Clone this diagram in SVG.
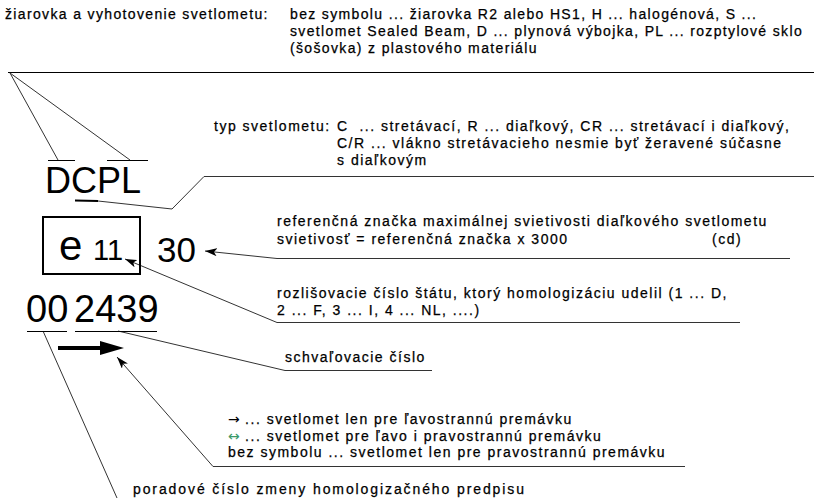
<svg xmlns="http://www.w3.org/2000/svg" width="814" height="498" viewBox="0 0 814 498">
<style>
  .t { font-family: "Liberation Sans", Arial, sans-serif; font-size: 14px; fill: #000; stroke: #000; stroke-width: 0.25px; letter-spacing: 1.5px; white-space: pre; }
  .top { letter-spacing: 1.35px; }
  .wide { letter-spacing: 1.9px; }
  .sym { font-family: "DejaVu Sans", sans-serif; letter-spacing: 0; stroke-width: 0; }
  .big { font-family: "Liberation Sans", Arial, sans-serif; fill: #000; }
  .ln { stroke: #333; stroke-width: 1; fill: none; }
  .lnk { stroke: #000; stroke-width: 1; fill: none; }
</style>
<defs>
  <marker id="ah" viewBox="0 0 12 8" refX="12" refY="4" markerWidth="12" markerHeight="8" markerUnits="userSpaceOnUse" orient="auto">
    <path d="M0,0 L12,4 L0,8 L3,4 z" fill="#000"/>
  </marker>
</defs>

<g id="connectors">
  <line class="lnk" x1="8" y1="72.5" x2="814" y2="72.5"/>
  <polyline class="ln" points="58,160 10,73 130,160"/>
  <line x1="75" y1="200.5" x2="98" y2="201" stroke="#000" stroke-width="2"/>
  <polyline class="ln" points="98,201 172,209 204,176.5 814,176.5"/>
  <polyline class="ln" points="790,258.5 277,258.5 205,251" marker-end="url(#ah)"/>
  <polyline class="ln" points="740,322.5 277,322.5 125,259" marker-end="url(#ah)"/>
  <polyline class="ln" points="118,331 285,370.5 432,370.5"/>
  <polyline class="ln" points="685,466.5 213,466.5 117,357" marker-end="url(#ah)"/>
  <line class="ln" x1="43" y1="331" x2="117" y2="498"/>
</g>

<g id="node-ziarovka">
  <text class="t top" x="5" y="19">žiarovka a vyhotovenie svetlometu:</text>
  <text class="t top" x="290" y="19">bez symbolu ... žiarovka R2 alebo HS1, H ... halogénová, S ...</text>
  <text class="t top" x="290" y="36">svetlomet Sealed Beam, D ... plynová výbojka, PL ... rozptylové sklo</text>
  <text class="t top" x="290" y="53">(šošovka) z plastového materiálu</text>
</g>

<g id="node-typ">
  <text class="t" x="214" y="131">typ svetlometu:</text>
  <text class="t" x="337" y="131">C  ... stretávací, R ... diaľkový, CR ... stretávací i diaľkový,</text>
  <text class="t" x="337" y="148">C/R ... vlákno stretávacieho nesmie byť žeravené súčasne</text>
  <text class="t" x="337" y="165">s diaľkovým</text>
</g>

<g id="node-dcpl">
  <text class="big" x="45" y="193" font-size="36">DCPL</text>
  <line class="lnk" x1="48" y1="160.5" x2="75" y2="160.5"/>
  <line class="lnk" x1="107" y1="160.5" x2="148" y2="160.5"/>
</g>

<g id="node-e11">
  <rect x="43" y="217" width="97" height="57" fill="none" stroke="#000" stroke-width="2"/>
  <text class="big" x="59" y="260" font-size="42">e</text>
  <text class="big" x="93" y="260" font-size="29">11</text>
</g>

<g id="node-30">
  <text class="big" x="157" y="262" font-size="35">30</text>
</g>

<g id="node-ref">
  <text class="t" x="277" y="226">referenčná značka maximálnej svietivosti diaľkového svetlometu</text>
  <text class="t" x="277" y="244">svietivosť = referenčná značka x 3000</text>
  <text class="t" x="712" y="244">(cd)</text>
</g>

<g id="node-rozl">
  <text class="t" x="277" y="298">rozlišovacie číslo štátu, ktorý homologizáciu udelil (1 ... D,</text>
  <text class="t" x="277" y="315">2 ... F, 3 ... I, 4 ... NL, ....)</text>
</g>

<g id="node-number">
  <text class="big" x="26" y="322" font-size="38">00</text>
  <text class="big" x="74" y="322" font-size="38">2439</text>
  <line class="lnk" x1="27" y1="331.5" x2="67" y2="331.5"/>
  <line class="lnk" x1="75" y1="331.5" x2="157" y2="331.5"/>
</g>

<g id="node-arrow">
  <rect x="58" y="346" width="43" height="4" fill="#000"/>
  <polygon points="100,341 124,348 100,355" fill="#000"/>
</g>

<g id="node-schval">
  <text class="t" x="285" y="362">schvaľovacie číslo</text>
</g>

<g id="node-legend">
  <text class="t" x="228" y="424"><tspan class="sym">→</tspan> ... svetlomet len pre ľavostrannú premávku</text>
  <text class="t" x="228" y="441"><tspan class="sym" fill="#3a9a6a">↔</tspan> ... svetlomet pre ľavo i pravostrannú premávku</text>
  <text class="t" x="228" y="457">bez symbolu ... svetlomet len pre pravostrannú premávku</text>
</g>

<g id="node-poradove">
  <text class="t wide" x="133" y="494">poradové číslo zmeny homologizačného predpisu</text>
</g>
</svg>
